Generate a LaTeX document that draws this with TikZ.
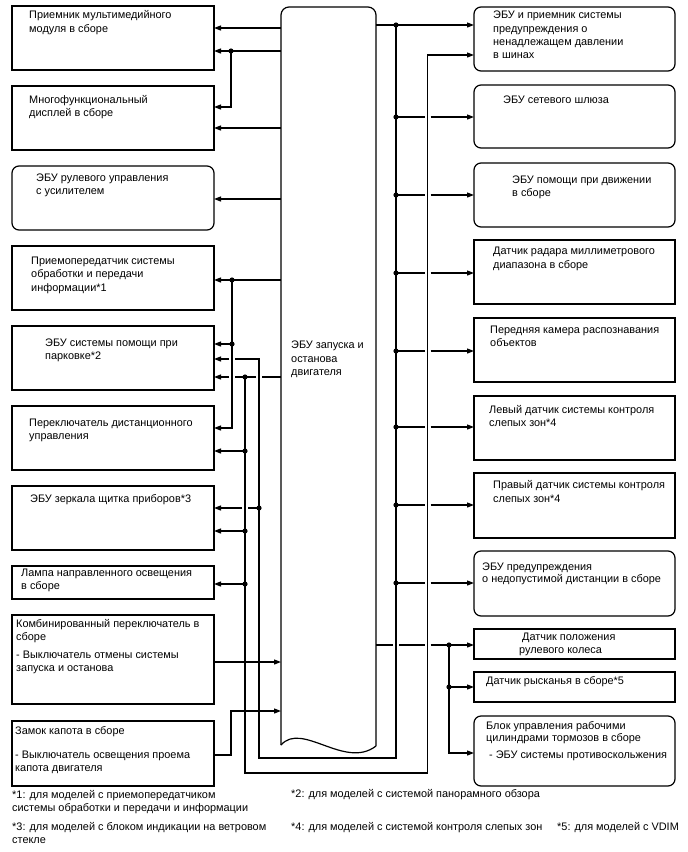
\documentclass[tikz,border=0pt]{standalone}
\usepackage{fontspec}
\setmainfont{Liberation Sans}
\usetikzlibrary{arrows.meta}
\tikzset{
  ln/.style={line width=1.2pt},
  arr/.style={ln,-{Triangle[length=7pt,width=5pt]}},
  sbox/.style={draw, line width=1.2pt, anchor=north west, inner sep=0pt, outer sep=0pt},
  rbox/.style={sbox, rounded corners=7pt},
  txt/.style={anchor=base west, inner sep=0pt, font=\fontsize{10.9}{13.3}\selectfont},
}
\newcommand{\tl}[1]{\begin{tabular}[t]{@{}l@{}}#1\end{tabular}}
\newcommand{\jdot}[1]{\fill (#1) circle (2.6pt);}
\begin{document}
\begin{tikzpicture}[x=1pt,y=-1pt]
\useasboundingbox (0,0) rectangle (688,852);
% ---------- central ECU ----------
\draw[ln, rounded corners=8pt] (281,745) -- (281,7) -- (376,7) -- (376,746);
\draw[ln] (281,745) .. controls (302,721) and (345,770) .. (376,746);
\node (ecu) [txt] at (291,348.7) {\tl{ЭБУ запуска и\\останова\\двигателя}};
% ---------- left boxes ----------
\node (L1) [sbox, minimum width=202pt, minimum height=64pt] at (12,6) {};
\node (L2) [sbox, minimum width=202pt, minimum height=64pt] at (12,86) {};
\node (L3) [rbox, minimum width=202pt, minimum height=64pt] at (12,166) {};
\node (L4) [sbox, minimum width=202pt, minimum height=64pt] at (12,246) {};
\node (L5) [sbox, minimum width=202pt, minimum height=64pt] at (12,326) {};
\node (L6) [sbox, minimum width=202pt, minimum height=64pt] at (12,406) {};
\node (L7) [sbox, minimum width=202pt, minimum height=64pt] at (12,486) {};
\node (L8) [sbox, minimum width=202pt, minimum height=33pt] at (12,566) {};
\node (L9) [sbox, minimum width=202pt, minimum height=89pt] at (12,615) {};
\node (L10) [sbox, minimum width=202pt, minimum height=65pt] at (12,721) {};
\node (tL1) [txt] at (29,18.7) {\tl{Приемник мультимедийного\\модуля в сборе}};
\node (tL2) [txt] at (29,103) {\tl{Многофункциональный\\дисплей в сборе}};
\node (tL3) [txt] at (36,181.5) {\tl{ЭБУ рулевого управления\\с усилителем}};
\node (tL4) [txt] at (31,264.5) {\tl{Приемопередатчик системы\\обработки и передачи\\информации*1}};
\node (tL5) [txt] at (45,346.5) {\tl{ЭБУ системы помощи при\\парковке*2}};
\node (tL6) [txt] at (29,426.5) {\tl{Переключатель дистанционного\\управления}};
\node (tL7) [txt] at (30,502) {\tl{ЭБУ зеркала щитка приборов*3}};
\node (tL8) [txt] at (21,576.5) {\tl{Лампа направленного освещения\\в сборе}};
\node (tL9) [txt] at (16,627.5) {\tl{Комбинированный переключатель в\\сборе\\[4.5pt]- Выключатель отмены системы\\запуска и останова}};
\node (tL10) [txt] at (15,734.7) {\tl{Замок капота в сборе\\[10pt]- Выключатель освещения проема\\капота двигателя}};
% ---------- right boxes ----------
\node (R1) [rbox, minimum width=201pt, minimum height=64pt] at (474,7) {};
\node (R2) [rbox, minimum width=201pt, minimum height=63pt] at (474,85) {};
\node (R3) [rbox, minimum width=201pt, minimum height=64pt] at (474,163) {};
\node (R4) [sbox, minimum width=201pt, minimum height=64pt] at (474,240) {};
\node (R5) [sbox, minimum width=201pt, minimum height=64pt] at (474,318) {};
\node (R6) [sbox, minimum width=201pt, minimum height=64pt] at (474,396) {};
\node (R7) [sbox, minimum width=201pt, minimum height=65pt] at (474,473) {};
\node (R8) [rbox, minimum width=201pt, minimum height=65pt] at (474,551) {};
\node (R9) [sbox, minimum width=201pt, minimum height=30pt] at (474,629) {};
\node (R10) [sbox, minimum width=201pt, minimum height=30pt] at (474,672) {};
\node (R11) [rbox, minimum width=201pt, minimum height=70pt] at (474,716) {};
\node (tR1) [txt] at (493,18.7) {\tl{ЭБУ и приемник системы\\предупреждения о\\ненадлежащем давлении\\в шинах}};
\node (tR2) [txt] at (503,103) {\tl{ЭБУ сетевого шлюза}};
\node (tR3) [txt] at (512,183) {\tl{ЭБУ помощи при движении\\в сборе}};
\node (tR4) [txt] at (493,254.7) {\tl{Датчик радара миллиметрового\\диапазона в сборе}};
\node (tR5) [txt] at (490,333) {\tl{Передняя камера распознавания\\объектов}};
\node (tR6) [txt] at (489,413) {\tl{Левый датчик системы контроля\\слепых зон*4}};
\node (tR7) [txt] at (493,488.7) {\tl{Правый датчик системы контроля\\слепых зон*4}};
\node (tR8) [txt] at (482,570) {\tl{ЭБУ предупреждения\\[-1pt]о недопустимой дистанции в сборе}};
\node (tR9) [txt] at (522,640.3) {\tl{Датчик положения\\[-0.5pt]\hspace{-3pt}рулевого колеса}};
\node (tR10) [txt] at (486,684.7) {\tl{Датчик рысканья в сборе*5}};
\node (tR11) [txt] at (486,729) {\tl{Блок управления рабочими\\[-1pt]цилиндрами тормозов в сборе\\[3.5pt]\hspace{3pt}- ЭБУ системы противоскольжения}};
% ---------- footnotes ----------
\node (f1) [txt] at (12,798) {\tl{*1: для моделей с приемопередатчиком\\системы обработки и передачи и информации}};
\node (f3) [txt] at (12,830) {\tl{*3: для моделей с блоком индикации на ветровом\\стекле}};
\node (f2) [txt] at (291,797.5) {*2: для моделей с системой панорамного обзора};
\node (f4) [txt] at (291,830) {*4: для моделей с системой контроля слепых зон};
\node (f5) [txt] at (557,830) {*5: для моделей с VDIM};
% ---------- coordinates ----------
\coordinate (Ea) at (281,28);
\coordinate (Eb) at (281,51);
\coordinate (Ec) at (281,128);
\coordinate (Ed) at (281,199);
\coordinate (Ee) at (281,280);
\coordinate (Ef) at (281,377);
\coordinate (Eg) at (281,662);
\coordinate (Eh) at (281,711);
\coordinate (Er1) at (376,25);
\coordinate (Er9) at (376,645);
\coordinate (j1) at (231,51);
\coordinate (j2) at (232,280);
\coordinate (j3) at (232,344);
\coordinate (j4) at (245,377);
\coordinate (j5) at (245,451);
\coordinate (j6) at (245,531);
\coordinate (j7) at (245,584);
\coordinate (j8) at (259,508);
\coordinate (b0) at (396,25);
\coordinate (j9) at (449,645);
\coordinate (j10) at (449,687);
% ---------- left connectors ----------
\draw[arr] (Ea) -- (L1.east |- Ea);
\draw[arr] (Eb) -- (L1.east |- Eb);
\draw[arr] (j1) |- (L2.east |- 0,107);
\draw[arr] (Ec) -- (L2.east |- Ec);
\draw[arr] (Ed) -- (L3.east |- Ed);
\draw[arr] (Ee) -- (L4.east |- Ee);
\draw[ln] (j2) -- (j3);
\draw[arr] (j3) -- (L5.east |- j3);
\draw[arr] (j3) |- (L6.east |- 0,428);
% bus from ECU top output, down, under ECU, up to parking ECU
\draw[ln] (b0) -- (396,758) -- (259,758) -- (259,359) -- (235,359);
\draw[arr] (229,359) -- (L5.east |- 0,359);
% ECU output at y=377
\draw[ln] (Ef) -- (262,377) (256,377) -- (235,377);
\draw[arr] (229,377) -- (L5.east |- Ef);
% line x=245 to the TPMS receiver
\draw[arr] (j4) -- (245,773) -- (427.5,773) -- (427.5,55) -- (R1.west |- 0,55);
\draw[arr] (j5) -- (L6.east |- j5);
\draw[ln] (j8) -- (248,508);
\draw[arr] (242,508) -- (L7.east |- j8);
\draw[arr] (j6) -- (L7.east |- j6);
\draw[arr] (j7) -- (L8.east |- j7);
% inputs
\draw[arr] (L9.east |- Eg) -- (Eg);
\draw[arr] (L10.east |- 0,755) -- (231,755) -- (231,711) -- (Eh);
% ---------- right connectors ----------
\draw[arr] (Er1) -- (R1.west |- Er1);
\foreach \y/\b in {117/R2,195/R3,273/R4,351/R5,427/R6,505/R7,583/R8}{
  \draw[ln] (396,\y) -- (424.5,\y);
  \draw[arr] (430.5,\y) -- (\b.west |- 0,\y);
  \fill (396,\y) circle (2.6pt);
}
\draw[ln] (Er9) -- (393,645) (399,645) -- (424.5,645);
\draw[arr] (430.5,645) -- (R9.west |- Er9);
\draw[arr] (j10) -- (R10.west |- j10);
\draw[arr] (j9) |- (R11.west |- 0,753);
% ---------- junction dots ----------
\jdot{j1}\jdot{j2}\jdot{j3}\jdot{j4}\jdot{j5}\jdot{j6}\jdot{j7}\jdot{j8}
\jdot{b0}\jdot{j9}\jdot{j10}
\end{tikzpicture}
\end{document}
